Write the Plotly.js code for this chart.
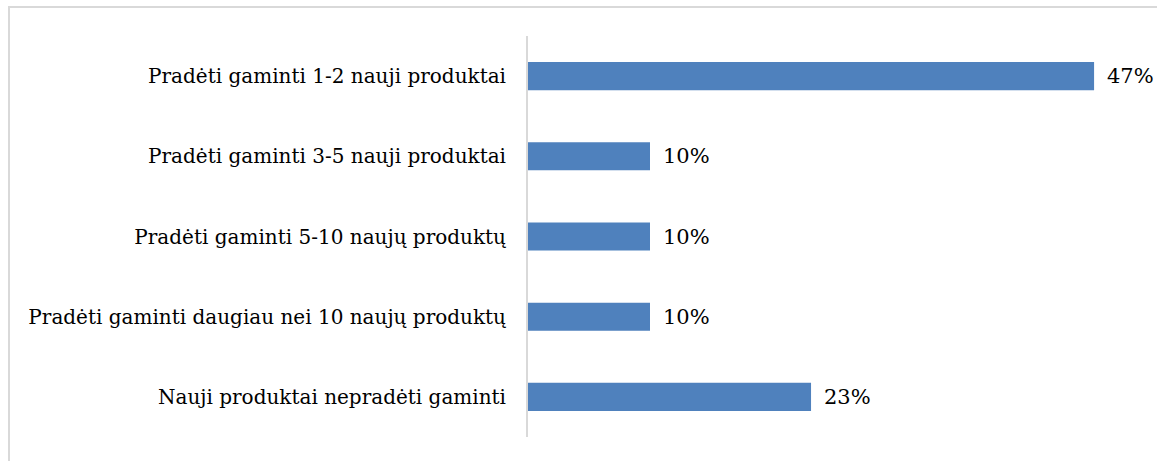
<!DOCTYPE html>
<html>
<head>
<meta charset="utf-8">
<script src="https://cdn.plot.ly/plotly-3.0.1.min.js"></script>
<style>
  html, body { margin: 0; padding: 0; background: #fff; overflow: hidden; }
  #wrap { position: relative; width: 1157px; height: 461px; overflow: hidden; }
  #chart { position: absolute; left: 0; top: 0; width: 1157px; height: 461px; }
  #frame { position: absolute; left: 8px; top: 6px; width: 1300px; height: 600px;
           border: 2px solid #d9d9d9; box-sizing: border-box; pointer-events: none; }
</style>
</head>
<body>
<div id="wrap">
  <div id="chart"></div>
  <div id="frame"></div>
</div>
<script>
const categories = [
  "Pradėti gaminti 1-2 nauji produktai",
  "Pradėti gaminti 3-5 nauji produktai",
  "Pradėti gaminti 5-10 naujų produktų",
  "Pradėti gaminti daugiau nei 10 naujų produktų",
  "Nauji produktai nepradėti gaminti"
];
const values = [46.4, 10, 10, 10, 23.2];
const labels = ["47%", "10%", "10%", "10%", "23%"];

const fontFamily = "DejaVu Serif, serif";

const trace = {
  type: "bar",
  orientation: "h",
  y: categories,
  x: values,
  marker: { color: "#4f81bd" },
  hoverinfo: "skip"
};

const annotations = categories.map((c, i) => ({
  x: values[i], y: c, xref: "x", yref: "y",
  text: labels[i], showarrow: false,
  xanchor: "left", yanchor: "middle", xshift: 11,
  font: { family: fontFamily, size: 21, color: "#000" }
}));

const layout = {
  width: 1157, height: 461,
  margin: { l: 528, r: 19, t: 36, b: 24, pad: 0 },
  paper_bgcolor: "#fff",
  plot_bgcolor: "rgba(0,0,0,0)",
  showlegend: false,
  bargap: 0.65,
  xaxis: {
    range: [0, 50], visible: false, fixedrange: true
  },
  yaxis: {
    autorange: "reversed",
    showline: true, linecolor: "#d9d9d9", linewidth: 2,
    showgrid: false, zeroline: false,
    ticks: "outside", ticklen: 16, tickcolor: "rgba(0,0,0,0)",
    tickfont: { family: fontFamily, size: 20, color: "#000" }
  },
  annotations: annotations
};

Plotly.newPlot("chart", [trace], layout, { displayModeBar: false, staticPlot: true });
</script>
</body>
</html>
